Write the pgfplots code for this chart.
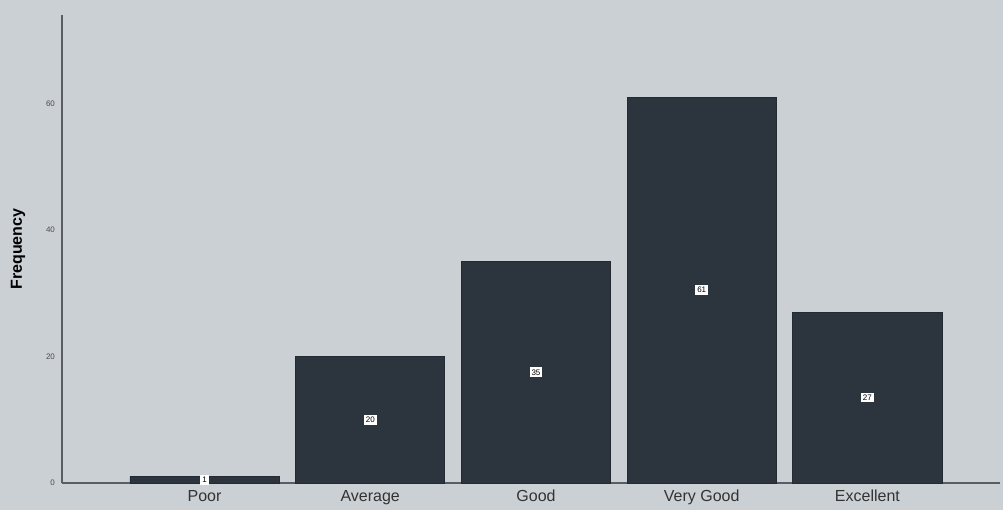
\documentclass[border=0pt]{standalone}
\usepackage{pgfplots}
\pgfplotsset{compat=1.18}
\usepackage{fontspec}
\setmainfont{Liberation Sans}
\definecolor{bgc}{HTML}{CBD0D5}
\definecolor{barc}{HTML}{2C343E}
\definecolor{axc}{HTML}{5A5E64}

\begin{document}
\begin{tikzpicture}
\fill[bgc] (0,0) rectangle (501.5pt,255pt);
\useasboundingbox (0,0) rectangle (501.5pt,255pt);
\begin{axis}[
    at={(31pt,13.5pt)}, anchor=south west,
    scale only axis,
    width=469pt, height=234pt,
    xmin=-0.86, xmax=4.8,
    ymin=0, ymax=74,
    axis x line*=bottom, axis y line*=left,
    axis line style={axc, line width=0.6pt, -},
    xtick=data,
    xticklabels={Poor, Average, Good, Very Good, Excellent},
    xticklabel style={font=\footnotesize, text=black!80},
    ytick={0,20,40,60},
    yticklabel style={font=\fontsize{4}{5}\selectfont, text=black!70},
    /pgf/number format/assume math mode=true,
    major tick length=0pt,
    ylabel={\textbf{Frequency}},
    ylabel style={font=\footnotesize, anchor=center, at={(axis description cs:-0.047,0.5)}},
    every node near coord/.append style={font=\fontsize{4}{5}\selectfont,
        fill=white, text=black, inner sep=1pt, anchor=center},
    clip=false,
]
\addplot[ybar, bar width=0.9, fill=barc, draw=barc!80!black] coordinates {
(0,1) (1,20) (2,35) (3,61) (4,27)
};
% value labels sit at half bar height
\addplot[draw=none, mark=none, nodes near coords, point meta=explicit symbolic] coordinates {
(0,0.5)[1] (1,10)[20] (2,17.5)[35] (3,30.5)[61] (4,13.5)[27]
};
\end{axis}
\end{tikzpicture}
\end{document}
